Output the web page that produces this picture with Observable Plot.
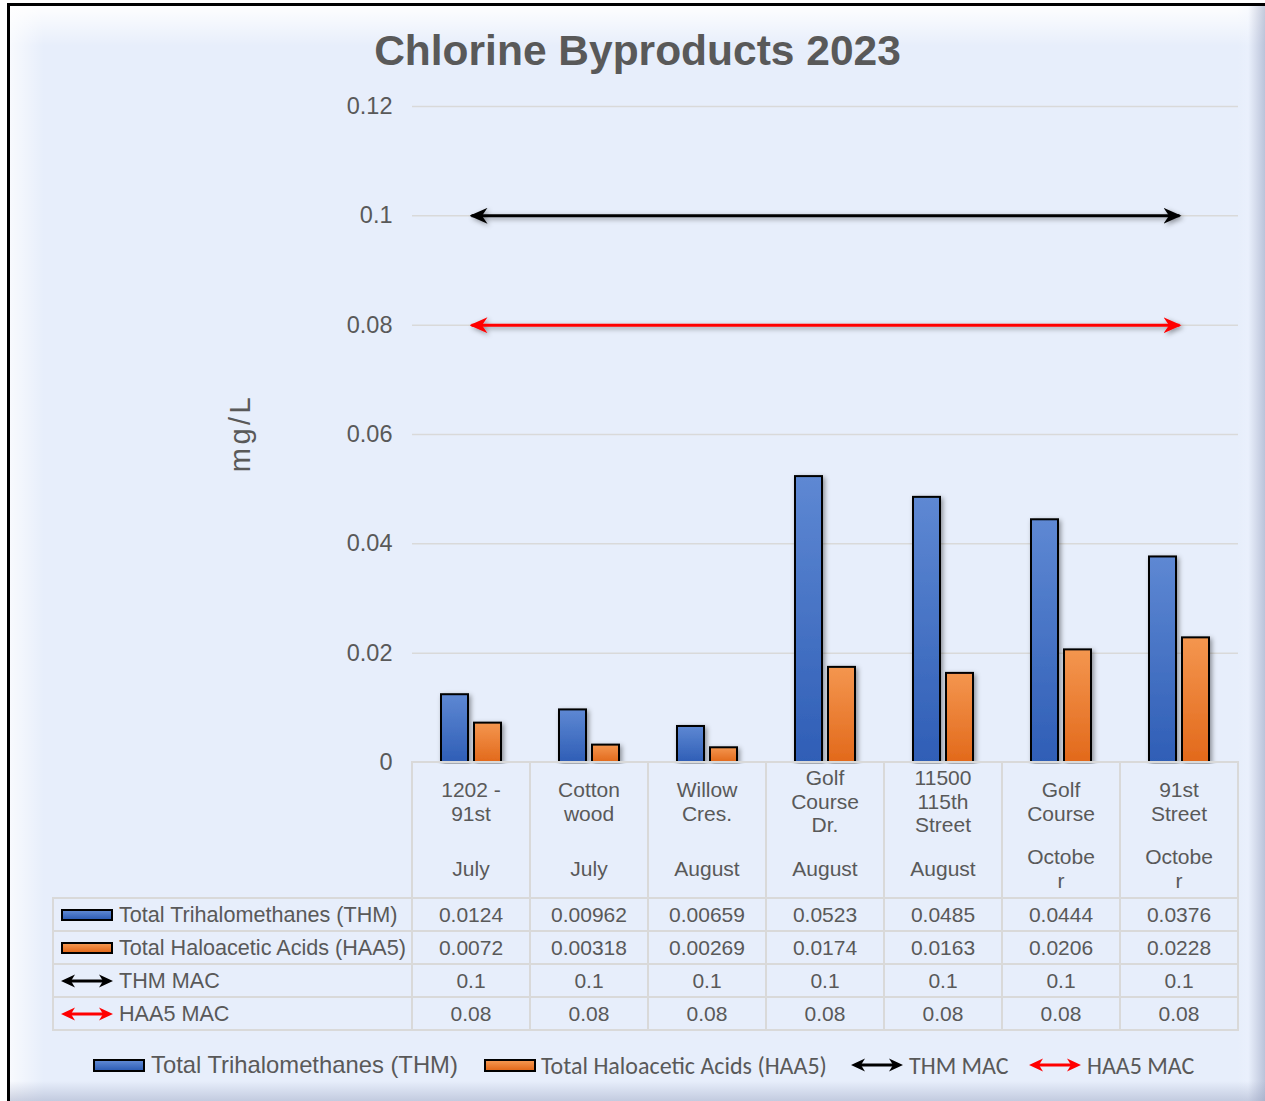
<!DOCTYPE html>
<html>
<head>
<meta charset="utf-8">
<script src="https://cdn.jsdelivr.net/npm/d3@7"></script>
<script src="https://cdn.jsdelivr.net/npm/@observablehq/plot@0.6"></script>
<style>
  body { margin: 0; background: #ffffff; }
  #frame { position: absolute; left: 0; top: 0; width: 1265px; height: 1101px; overflow: hidden;
           font-family: "Liberation Sans", Arial, sans-serif; color: #595959; }
  #panel { position: absolute; left: 7px; top: 3px; width: 1258px; height: 1098px; background: #e7eefb;
           border-top: 3px solid #000; border-left: 3px solid #000; box-sizing: border-box; overflow: hidden; }
  .bev { position: absolute; }
  #chart { position: absolute; left: 0; top: 0; }
  #title { position: absolute; left: 0; width: 1275px; top: 29px; text-align: center; font-weight: bold;
           font-size: 42.5px; line-height: 43px; color: #595959; white-space: nowrap; }
  #ylabel { position: absolute; left: 240px; top: 433px; font-size: 29px; letter-spacing: 3.5px; white-space: nowrap;
            transform: translate(-50%, -50%) rotate(-90deg); color: #595959; }
  .cell { position: absolute; box-sizing: border-box; border: 2px solid #d9d9d9; font-size: 21px; color: #595959;
          display: flex; align-items: center; justify-content: center; white-space: nowrap; }
  .head { flex-direction: column; justify-content: flex-start; }
  .head .nm { height: 77px; display: flex; align-items: center; justify-content: center; }
  .head .mo { flex: 1; display: flex; align-items: center; justify-content: center; }
  .head span { display: block; width: 70px; white-space: normal; overflow-wrap: anywhere; text-align: center; line-height: 23.5px; }
  .lab { justify-content: flex-start; padding-left: 7px; font-size: 21.6px; }
  .sw { width: 52px; height: 12px; box-sizing: border-box; border: 2px solid #000; margin-right: 6px; flex: none; }
  .swB { background: linear-gradient(#5e88d3, #2f5eb6); }
  .swO { background: linear-gradient(#f4964f, #e2691b); }
  .arr { width: 52px; height: 16px; margin-right: 6px; flex: none; display: block; }
  .leg { position: absolute; top: 1052px; height: 26px; display: flex; align-items: center; white-space: nowrap; color: #595959; }
  .leg .t1 { font-size: 23.8px; }
  .leg .t2 { font-family: Carlito, Calibri, Lato, sans-serif; font-size: 24px; }
</style>
</head>
<body>
<div id="frame">
  <div id="panel">
    <div class="bev" style="left:0;top:0;width:100%;height:40px;background:linear-gradient(rgba(255,255,255,0.95),rgba(255,255,255,0));"></div>
    <div class="bev" style="left:0;top:0;width:34px;height:100%;background:linear-gradient(90deg,rgba(255,255,255,0.7),rgba(255,255,255,0));"></div>
    <div class="bev" style="right:0;top:0;width:28px;height:100%;background:linear-gradient(90deg,rgba(160,170,200,0),rgba(240,245,255,0.3) 40%,rgba(150,160,190,0.55));"></div>
    <div class="bev" style="left:0;bottom:0;width:100%;height:20px;background:linear-gradient(rgba(160,170,200,0),rgba(150,160,190,0.45));"></div>
  </div>
  <div id="chart"></div>
  <div id="title"></div>
  <div id="ylabel"></div>
  <div id="table"></div>
  <div id="legend"></div>
</div>
<script>
// ---------------- data ----------------
const chartTitle = "Chlorine Byproducts 2023";
const yLabel = "mg/L";
const sites = ["1202 - 91st", "Cotton wood", "Willow Cres.", "Golf Course Dr.", "11500 115th Street", "Golf Course", "91st Street"];
const months = ["July", "July", "August", "August", "August", "October", "October"];
const thmValues = [0.0124, 0.00962, 0.00659, 0.0523, 0.0485, 0.0444, 0.0376];
const haa5Values = [0.0072, 0.00318, 0.00269, 0.0174, 0.0163, 0.0206, 0.0228];
const thmMac = [0.1, 0.1, 0.1, 0.1, 0.1, 0.1, 0.1];
const haa5Mac = [0.08, 0.08, 0.08, 0.08, 0.08, 0.08, 0.08];
const yTicks = [0, 0.02, 0.04, 0.06, 0.08, 0.1, 0.12];
const seriesNames = ["Total Trihalomethanes (THM)", "Total Haloacetic Acids (HAA5)", "THM MAC", "HAA5 MAC"];

// ---------------- tables for Plot ----------------
const rowsOf = vals => sites.map((s, i) => ({site: s, value: vals[i]}));
const thmRows = rowsOf(thmValues), haaRows = rowsOf(haa5Values);
const thmMacRows = rowsOf(thmMac), haaMacRows = rowsOf(haa5Mac);

const chart = Plot.plot({
  width: 1265, height: 764,
  marginLeft: 412, marginRight: 27, marginTop: 106, marginBottom: 2,
  style: {background: "transparent", fontFamily: "'Liberation Sans', Arial, sans-serif", fontSize: "23.5px", color: "#595959", overflow: "visible"},
  x: {domain: sites, padding: 0, axis: null},
  y: {domain: [0, 0.12], ticks: yTicks, tickSize: 0, tickPadding: 20, tickFormat: d3.format("~g"), label: null},
  marks: [
    Plot.ruleY(yTicks.filter(d => d > 0), {stroke: "#d9d9d9", strokeWidth: 1.5}),
    Plot.line(thmMacRows, {x: "site", y: "value", stroke: "#000000", strokeWidth: 3, strokeLinecap: "butt"}),
    Plot.line(haaMacRows, {x: "site", y: "value", stroke: "#ff0000", strokeWidth: 3, strokeLinecap: "butt"}),
    Plot.barY(thmRows, {x: "site", y: "value", fill: "url(#gBlue)", stroke: "#000", strokeWidth: 2, insetLeft: 29, insetRight: 62}),
    Plot.barY(haaRows, {x: "site", y: "value", fill: "url(#gOrange)", stroke: "#000", strokeWidth: 2, insetLeft: 62, insetRight: 29})
  ]
});
document.getElementById("chart").appendChild(chart);

// defs: gradients, shadow, arrow markers
const svg = d3.select(chart);
const defs = svg.insert("defs", ":first-child");
function grad(id, c0, c1) {
  const g = defs.append("linearGradient").attr("id", id).attr("x1", 0).attr("y1", 0).attr("x2", 0).attr("y2", 1);
  g.append("stop").attr("offset", "0%").attr("stop-color", c0);
  g.append("stop").attr("offset", "100%").attr("stop-color", c1);
}
grad("gBlue", "#5e88d3", "#2f5eb6");
grad("gOrange", "#f4964f", "#e2691b");
const flt = defs.append("filter").attr("id", "shadow").attr("filterUnits", "userSpaceOnUse")
  .attr("x", 0).attr("y", 0).attr("width", 1265).attr("height", 764);
flt.append("feDropShadow").attr("dx", 2).attr("dy", 2).attr("stdDeviation", 2.5).attr("flood-color", "#000").attr("flood-opacity", 0.4);
function marker(id, color) {
  const m = defs.append("marker").attr("id", id).attr("viewBox", "0 0 18 16").attr("refX", 16).attr("refY", 8)
    .attr("markerWidth", 18).attr("markerHeight", 16).attr("markerUnits", "userSpaceOnUse").attr("orient", "auto-start-reverse");
  m.append("path").attr("d", "M0,0 L18,8 L0,16 L5.5,8 Z").attr("fill", color);
}
marker("arrK", "#000000");
marker("arrR", "#ff0000");
svg.selectAll('g[aria-label="bar"]').attr("filter", "url(#shadow)");
const lineGroups = svg.selectAll('g[aria-label="line"]').attr("filter", "url(#shadow)");
lineGroups.each(function(d, i) {
  d3.select(this).selectAll("path").attr("marker-start", i === 0 ? "url(#arrK)" : "url(#arrR)").attr("marker-end", i === 0 ? "url(#arrK)" : "url(#arrR)");
});

// title and y label
document.getElementById("title").textContent = chartTitle;
document.getElementById("ylabel").textContent = yLabel;

// ---------------- data table ----------------
const xs = chart.scale("x");
const ys = chart.scale("y");
const tbl = d3.select("#table");
const headTop = ys.apply(0), headH = 136, rowH = 33;
const bw = xs.bandwidth;
sites.forEach((s, i) => {
  const x0 = xs.apply(s);
  const c = tbl.append("div").attr("class", "cell head")
    .style("left", (x0 - 1) + "px").style("top", (headTop - 1) + "px")
    .style("width", (bw + 2) + "px").style("height", (headH + 2) + "px");
  c.append("div").attr("class", "nm").append("span").text(s);
  c.append("div").attr("class", "mo").append("span").text(months[i]);
});
function arrowSvg(color) {
  return `<svg class="arr" viewBox="0 0 52 16" width="52" height="16"><line x1="10" y1="8" x2="42" y2="8" stroke="${color}" stroke-width="3"/>`
    + `<path d="M52,8 L38,1.5 L42,8 L38,14.5 Z" fill="${color}"/><path d="M0,8 L14,1.5 L10,8 L14,14.5 Z" fill="${color}"/></svg>`;
}
const tableRows = [
  {name: seriesNames[0], vals: thmValues, sw: '<div class="sw swB"></div>'},
  {name: seriesNames[1], vals: haa5Values, sw: '<div class="sw swO"></div>'},
  {name: seriesNames[2], vals: thmMac, sw: arrowSvg("#000000")},
  {name: seriesNames[3], vals: haa5Mac, sw: arrowSvg("#ff0000")}
];
const labLeft = 53, xStart = xs.apply(sites[0]);
tableRows.forEach((r, j) => {
  const top = headTop + headH + j * rowH;
  const lc = tbl.append("div").attr("class", "cell lab")
    .style("left", (labLeft - 1) + "px").style("top", (top - 1) + "px")
    .style("width", (xStart - labLeft + 2) + "px").style("height", (rowH + 2) + "px");
  lc.html(r.sw);
  lc.append("span").text(r.name);
  sites.forEach((s, i) => {
    tbl.append("div").attr("class", "cell")
      .style("left", (xs.apply(s) - 1) + "px").style("top", (top - 1) + "px")
      .style("width", (bw + 2) + "px").style("height", (rowH + 2) + "px")
      .text(String(r.vals[i]));
  });
});

// ---------------- legend ----------------
const leg = d3.select("#legend");
const legItems = [
  {left: 93, sw: '<div class="sw swB" style="height:13px"></div>', cls: "t1", name: seriesNames[0]},
  {left: 484, sw: '<div class="sw swO" style="height:13px;margin-right:5px"></div>', cls: "t2", name: seriesNames[1]},
  {left: 851, sw: arrowSvg("#000000"), cls: "t2", name: seriesNames[2]},
  {left: 1029, sw: arrowSvg("#ff0000"), cls: "t2", name: seriesNames[3]}
];
legItems.forEach(it => {
  const d = leg.append("div").attr("class", "leg").style("left", it.left + "px");
  d.html(it.sw);
  d.append("span").attr("class", it.cls).text(it.name);
});
</script>
</body>
</html>
